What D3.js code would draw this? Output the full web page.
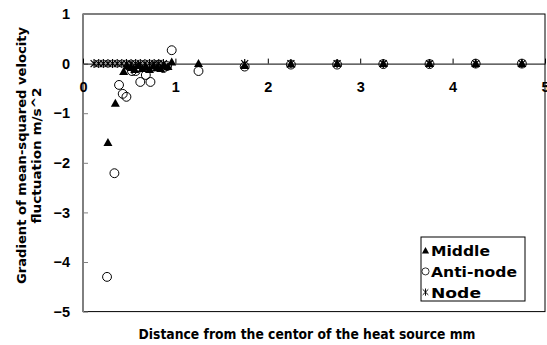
<!DOCTYPE html>
<html>
<head>
<meta charset="utf-8">
<script src="https://cdn.jsdelivr.net/npm/d3@7"></script>
<style>
  body { margin: 0; background: #fff; }
  text { font-family: "DejaVu Sans", sans-serif; font-weight: bold; fill: #000; }
  .tick text { font-family: "Liberation Sans", Arial, sans-serif; }
</style>
</head>
<body>
<div id="chart"></div>
<script>
// values: [distance mm, gradient m/s^2]
const middle = [
    [0.27, -1.59], [0.35, -0.80], [0.44, -0.16], [0.48, -0.05], [0.52, -0.08],
    [0.56, -0.12], [0.60, -0.04], [0.64, -0.10], [0.68, -0.06], [0.72, -0.12],
    [0.76, -0.05], [0.80, -0.08], [0.84, -0.10], [0.88, -0.04], [0.92, -0.06],
    [0.96, 0.03], [1.25, 0.00], [1.75, -0.04], [2.25, -0.01], [2.75, 0.00],
    [3.25, 0.00], [3.75, 0.00], [4.25, 0.00], [4.75, 0.00]
];

const antiNode = [
    [0.26, -4.30], [0.34, -2.21], [0.39, -0.43], [0.43, -0.61], [0.47, -0.67],
    [0.50, -0.05], [0.53, -0.15], [0.57, -0.15], [0.62, -0.37], [0.68, -0.23],
    [0.73, -0.37], [0.77, -0.06], [0.82, -0.03], [0.87, -0.09], [0.91, -0.05],
    [0.96, 0.27], [1.25, -0.15], [1.75, -0.06], [2.25, -0.02], [2.75, -0.02],
    [3.25, -0.01], [3.75, -0.01], [4.25, 0.00], [4.75, 0.00]
];

const node = [
    [0.12, 0], [0.17, 0], [0.22, 0], [0.27, 0], [0.32, 0], [0.37, 0],
    [0.42, 0], [0.47, 0], [0.52, 0], [0.57, 0], [0.62, 0], [0.67, 0],
    [0.72, 0], [0.77, 0], [0.82, 0], [0.87, 0], [1.75, 0], [2.25, 0],
    [2.75, 0], [3.25, 0], [3.75, 0], [4.25, 0], [4.75, 0]
];

const xTicks = [0, 1, 2, 3, 4, 5];
const yTicks = [1, 0, -1, -2, -3, -4, -5];
const seriesNames = ["Middle", "Anti-node", "Node"];

const width = 547;
const height = 345;
const margin = { top: 14, right: 2, bottom: 33.4, left: 83 };

const svg = d3.select("#chart")
    .append("svg")
    .attr("width", width)
    .attr("height", height);

const xScale = d3.scaleLinear()
    .domain([0, 5])
    .range([margin.left, width - margin.right]);

const yScale = d3.scaleLinear()
    .domain([-5, 1])
    .range([height - margin.bottom, margin.top]);

const fmt = d3.format("d");

// plot frame
svg.append("rect")
    .attr("x", xScale(0))
    .attr("y", yScale(1))
    .attr("width", xScale(5) - xScale(0))
    .attr("height", yScale(-5) - yScale(1))
    .attr("fill", "none")
    .attr("stroke", "#000");

// y axis, ticks pointing inward
const yAxis = svg.append("g")
    .attr("transform", `translate(${xScale(0)}, 0)`)
    .call(d3.axisLeft(yScale).tickValues(yTicks).tickFormat(fmt)
        .tickSize(-5).tickSizeOuter(0).tickPadding(13));
yAxis.select(".domain").attr("stroke", "#808080");
yAxis.selectAll(".tick line").attr("stroke", "#808080");
yAxis.selectAll("text").style("font-size", "14.5px").attr("font-family", null);

// x axis along zero line, labels below it inside the plot
const xAxis = svg.append("g")
    .attr("transform", `translate(0, ${yScale(0)})`)
    .call(d3.axisBottom(xScale).tickValues(xTicks).tickFormat(fmt)
        .tickSize(-5).tickSizeOuter(0).tickPadding(18));
xAxis.selectAll("text").style("font-size", "14.5px").attr("font-family", null);

// marker shapes
const tri = "M0,-4.5L4.5,3.5L-4.5,3.5Z";
const star = "M-3.5,-3.5L3.5,3.5M-3.5,3.5L3.5,-3.5M0,-4.5L0,4.5";

function styleMarker(sel, type) {
    if (type === 0) {
        sel.attr("d", tri).attr("fill", "#000");
    } else if (type === 1) {
        sel.attr("d", d3.symbol().type(d3.symbolCircle).size(62)())
            .attr("fill", "none").attr("stroke", "#000").attr("stroke-width", 1);
    } else {
        sel.attr("d", star).attr("fill", "none").attr("stroke", "#000").attr("stroke-width", 1.2);
    }
}

function drawSeries(data, type) {
    const pts = svg.append("g")
        .selectAll("path")
        .data(data)
        .enter()
        .append("path")
        .attr("transform", d => `translate(${xScale(d[0])}, ${yScale(d[1])})`);
    styleMarker(pts, type);
}

drawSeries(middle, 0);
drawSeries(antiNode, 1);
drawSeries(node, 2);

// legend
const legendWidths = [59, 86, 50];
const legend = svg.append("g").attr("transform", "translate(421, 237)");
legend.append("rect")
    .attr("width", 104)
    .attr("height", 64)
    .attr("fill", "#fff")
    .attr("stroke", "#000");

seriesNames.forEach((name, i) => {
    const row = legend.append("g").attr("transform", `translate(4.5, ${13.7 + i * 20.7})`);
    const mark = row.append("path").attr("transform", "scale(0.8)");
    styleMarker(mark, i);
    row.append("text")
        .attr("x", 5.5)
        .attr("y", 5.5)
        .style("font-size", "14.5px")
        .attr("textLength", legendWidths[i])
        .attr("lengthAdjust", "spacingAndGlyphs")
        .text(name);
});

// axis titles
svg.append("text")
    .attr("x", 307)
    .attr("y", 338.5)
    .attr("text-anchor", "middle")
    .style("font-size", "13.5px")
    .attr("textLength", 337)
    .attr("lengthAdjust", "spacingAndGlyphs")
    .text("Distance from the centor of the heat source mm");

svg.append("text")
    .attr("transform", "translate(25.5, 155.5) rotate(-90)")
    .attr("text-anchor", "middle")
    .style("font-size", "13px")
    .attr("textLength", 257)
    .attr("lengthAdjust", "spacingAndGlyphs")
    .text("Gradient of mean-squared velocity");

svg.append("text")
    .attr("transform", "translate(40.5, 155.5) rotate(-90)")
    .attr("text-anchor", "middle")
    .style("font-size", "13px")
    .attr("textLength", 136)
    .attr("lengthAdjust", "spacingAndGlyphs")
    .text("fluctuation m/s^2");
</script>
</body>
</html>
